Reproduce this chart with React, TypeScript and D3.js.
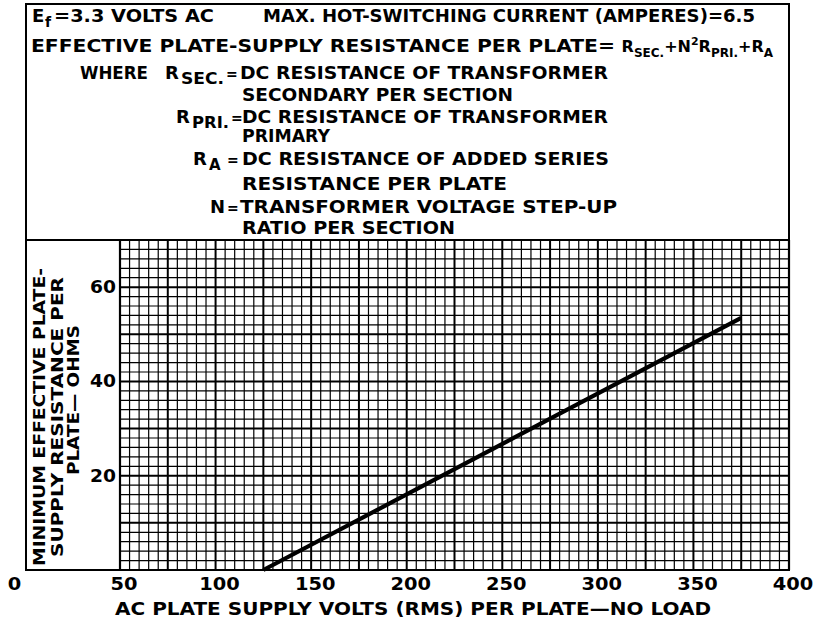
import React from 'react';
import * as d3 from 'd3';

// ---- data ----
const xTickValues = [0, 50, 100, 150, 200, 250, 300, 350, 400];
const yTickValues = [20, 40, 60];
const lineVolts = [125, 375];
const lineOhms = [0, 53.5];

const xTitle = 'AC PLATE SUPPLY VOLTS (RMS) PER PLATE\u2014NO LOAD';
const yTitleLines = ['MINIMUM EFFECTIVE PLATE-', 'SUPPLY RESISTANCE PER', 'PLATE\u2014 OHMS'];

const W = 816;
const H = 624;
const plot = { left: 120, right: 789, top: 240, bottom: 570 };
const FONT = '"DejaVu Sans", "Liberation Sans", sans-serif';

type TProps = {
  x: number; y: number; t: string; len?: number; size?: number;
  anchor?: 'start' | 'middle' | 'end'; transform?: string;
};
const T = ({ x, y, t, len, size = 18, anchor = 'start', transform }: TProps) => (
  <text
    x={x}
    y={y}
    fontSize={size}
    textAnchor={anchor}
    transform={transform}
    textLength={len}
    lengthAdjust={len ? 'spacingAndGlyphs' : undefined}
  >
    {t}
  </text>
);

export default function App() {
  const x = d3.scaleLinear().domain([50, 400]).range([plot.left, plot.right]);
  const y = d3.scaleLinear().domain([0, 70]).range([plot.bottom, plot.top]);
  const minorX = d3.range(50, 400.01, 5);
  const minorY = d3.range(0, 70.01, 2);
  const pts: [number, number][] = lineVolts.map((v, i) => [v, lineOhms[i]]);
  const path = d3.line<[number, number]>().x((d) => x(d[0])).y((d) => y(d[1]))(pts) || '';

  const sub = 5; // subscript drop
  return (
    <svg
      width={W}
      height={H}
      style={{ position: 'absolute', left: 0, top: 0, background: '#fff' }}
      fontFamily={FONT}
      fontWeight="bold"
      fill="#000"
    >
      <rect x={0} y={0} width={W} height={H} fill="#fff" />
      {/* grid */}
      <g stroke="#000">
        {minorX.map((v) => (
          <line key={'gx' + v} x1={x(v)} x2={x(v)} y1={plot.top} y2={plot.bottom}
            strokeWidth={Math.abs(v % 25) < 1e-6 ? 2 : 1.2} />
        ))}
        {minorY.map((v) => (
          <line key={'gy' + v} x1={plot.left} x2={plot.right} y1={y(v)} y2={y(v)}
            strokeWidth={Math.abs(v % 10) < 1e-6 ? 2 : 1.2} />
        ))}
      </g>
      {/* frame */}
      <rect x={26} y={4} width={plot.right - 26} height={plot.bottom - 4} fill="none" stroke="#000" strokeWidth={2} />
      <line x1={26} x2={plot.right} y1={plot.top} y2={plot.top} stroke="#000" strokeWidth={2} />
      <line x1={plot.left} x2={plot.left} y1={plot.top} y2={plot.bottom} stroke="#000" strokeWidth={2.2} />
      <line x1={plot.right} x2={plot.right} y1={plot.top} y2={plot.bottom} stroke="#000" strokeWidth={2.2} />

      {/* data line */}
      <path d={path} fill="none" stroke="#000" strokeWidth={4.2} />

      {/* x tick labels */}
      {xTickValues.map((v) => (
        <T key={'xt' + v} x={v === 0 ? x(v) - 10 : x(v) + 4} y={590} t={String(v)} anchor="middle"
          size={18} len={String(v).length * 13.5} />
      ))}
      <T x={115} y={615} t={xTitle} len={596} size={18} />

      {/* y tick labels */}
      {yTickValues.map((v) => (
        <T key={'yt' + v} x={116} y={y(v) + 6} t={String(v)} anchor="end" size={18} len={String(v).length * 13} />
      ))}
      <T x={0} y={0} t={yTitleLines[0]} anchor="middle" size={16} len={298} transform="translate(45,417) rotate(-90)" />
      <T x={0} y={0} t={yTitleLines[1]} anchor="middle" size={16} len={280} transform="translate(63,417) rotate(-90)" />
      <T x={0} y={0} t={yTitleLines[2]} anchor="middle" size={16} len={150} transform="translate(79,400) rotate(-90)" />

      {/* header text */}
      <T x={32} y={22} t="E" />
      <T x={45} y={22 + sub} t="f" size={14} />
      <T x={54} y={22} t="=3.3 VOLTS AC" len={160} />
      <T x={263} y={22} t="MAX. HOT-SWITCHING CURRENT (AMPERES)=6.5" len={492} />

      <T x={31} y={52} t="EFFECTIVE PLATE-SUPPLY RESISTANCE PER PLATE=" len={584} />
      <text x={773} y={52} fontSize={16} textAnchor="end">
        R<tspan fontSize={12} dy={sub}>SEC.</tspan>
        <tspan dy={-sub}>+N</tspan>
        <tspan fontSize={11} dy={-7}>2</tspan>
        <tspan dy={7}>R</tspan>
        <tspan fontSize={12} dy={sub}>PRI.</tspan>
        <tspan dy={-sub}>+R</tspan>
        <tspan fontSize={12} dy={sub}>A</tspan>
      </text>

      <T x={80} y={79} t="WHERE" len={68} />
      <T x={165} y={79} t="R" />
      <T x={181} y={79 + sub} t="SEC." size={15} len={43} />
      <T x={226} y={79} t="=" size={14} />
      <T x={240} y={79} t="DC RESISTANCE OF TRANSFORMER" len={368} />

      <T x={242} y={101} t="SECONDARY PER SECTION" len={271} />

      <T x={176} y={123} t="R" />
      <T x={192} y={123 + sub} t="PRI." size={15} len={37} />
      <T x={231} y={123} t="=" size={14} />
      <T x={242} y={123} t="DC RESISTANCE OF TRANSFORMER" len={366} />

      <T x={242} y={142} t="PRIMARY" len={88} />

      <T x={193} y={165} t="R" />
      <T x={209} y={165 + sub} t="A" size={15} />
      <T x={227} y={165} t="=" size={14} />
      <T x={242} y={165} t="DC RESISTANCE OF ADDED SERIES" len={367} />

      <T x={242} y={190} t="RESISTANCE PER PLATE" len={265} />

      <T x={210} y={213} t="N" />
      <T x={227} y={213} t="=" size={14} />
      <T x={240} y={213} t="TRANSFORMER VOLTAGE STEP-UP" len={377} />

      <T x={242} y={234} t="RATIO PER SECTION" len={213} />
    </svg>
  );
}
